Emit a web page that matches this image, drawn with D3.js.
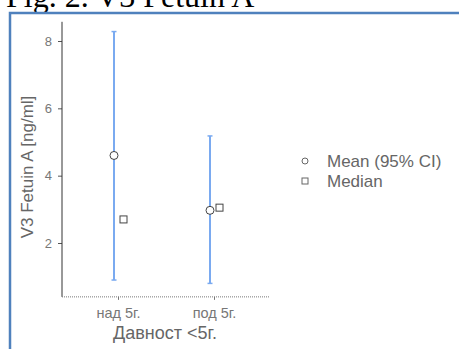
<!DOCTYPE html>
<html><head><meta charset="utf-8">
<script src="https://cdn.jsdelivr.net/npm/d3@7"></script>
<style>body{margin:0;background:#fff;overflow:hidden}svg{display:block}</style>
</head><body>
<script>
const categories = ["над 5г.", "под 5г."];
const means = [4.6, 2.97];
const ciLow = [0.9, 0.8];
const ciHigh = [8.28, 5.18];
const medians = [2.7, 3.05];
const yTicks = [2, 4, 6, 8];
const legendLabels = ["Mean (95% CI)", "Median"];

const W = 459, H = 349;
const svg = d3.select("body").append("svg").attr("width", W).attr("height", H);
const sans = "Liberation Sans, Arial, sans-serif";

// title (cut off at top)
svg.append("text").attr("x", 6).attr("y", 7)
  .attr("font-family", "Liberation Serif, Times New Roman, serif")
  .attr("font-size", 32).attr("fill", "#000").text("Fig. 2. V3 Fetuin A");

// frame
svg.append("rect").attr("x", 10).attr("y", 13).attr("width", 460).attr("height", 350)
  .attr("fill", "none").attr("stroke", "#4f81bd").attr("stroke-width", 2.5);

const y = d3.scaleLinear().domain([2, 8]).range([243, 41]);
const x = d3.scalePoint().domain(categories).range([118, 214]);
const axisX0 = 62, axisY0 = y(0.4), axisTop = y(8.57);

const g = svg.append("g").attr("font-family", sans);

// y axis
const ya = g.append("g").attr("transform", `translate(${axisX0},0)`)
  .call(d3.axisLeft(y).tickValues(yTicks).tickSize(4).tickPadding(6).tickFormat(d3.format("d")));
ya.select(".domain").remove();
ya.selectAll("line").attr("stroke", "#555");
ya.selectAll("text").attr("fill", "#777").attr("font-size", 13).attr("font-family", sans);
g.append("line").attr("x1", axisX0).attr("x2", axisX0).attr("y1", axisTop).attr("y2", axisY0)
  .attr("stroke", "#333").attr("stroke-width", 1);

// x axis (dotted)
g.append("line").attr("x1", axisX0).attr("x2", 270).attr("y1", axisY0).attr("y2", axisY0)
  .attr("stroke", "#777").attr("stroke-dasharray", "1,1");
const xa = g.append("g").attr("transform", `translate(0,${axisY0})`)
  .call(d3.axisBottom(x).tickSize(3).tickPadding(8));
xa.select(".domain").remove();
xa.selectAll("line").attr("stroke", "#777");
xa.selectAll("text").attr("fill", "#777").attr("font-size", 14.5).attr("font-family", sans);

// axis titles
g.append("text").attr("x", 165).attr("y", 339).attr("text-anchor", "middle")
  .attr("font-size", 18).attr("fill", "#666").text("Давност <5г.");
g.append("text").attr("transform", `translate(33,167) rotate(-90)`).attr("text-anchor", "middle")
  .attr("font-size", 17).attr("fill", "#666").text("V3 Fetuin A [ng/ml]");

// error bars
const off = -4;
categories.forEach((c, i) => {
  const cx = x(c) + off;
  g.append("line").attr("x1", cx).attr("x2", cx).attr("y1", y(ciHigh[i])).attr("y2", y(ciLow[i]))
    .attr("stroke", "#7aaaf0").attr("stroke-width", 2);
  [ciHigh[i], ciLow[i]].forEach(v => {
    g.append("line").attr("x1", cx - 2.5).attr("x2", cx + 2.5).attr("y1", y(v)).attr("y2", y(v))
      .attr("stroke", "#7aaaf0").attr("stroke-width", 1.5);
  });
  g.append("circle").attr("cx", cx).attr("cy", y(means[i])).attr("r", 4)
    .attr("fill", "#fff").attr("stroke", "#444").attr("stroke-width", 1);
  g.append("rect").attr("x", x(c) + 2).attr("y", y(medians[i]) - 3.5).attr("width", 7).attr("height", 7)
    .attr("fill", "#fff").attr("stroke", "#444").attr("stroke-width", 1);
});

// legend
const lg = g.append("g");
legendLabels.forEach((t, i) => {
  const ly = 161 + i * 20;
  if (i === 0) lg.append("circle").attr("cx", 305).attr("cy", ly).attr("r", 3)
    .attr("fill", "#fff").attr("stroke", "#666");
  else lg.append("rect").attr("x", 302).attr("y", ly - 3).attr("width", 6).attr("height", 6)
    .attr("fill", "#fff").attr("stroke", "#666");
  lg.append("text").attr("x", 327).attr("y", ly + 6).attr("font-size", 17).attr("fill", "#666").text(t);
});
</script>
</body></html>
